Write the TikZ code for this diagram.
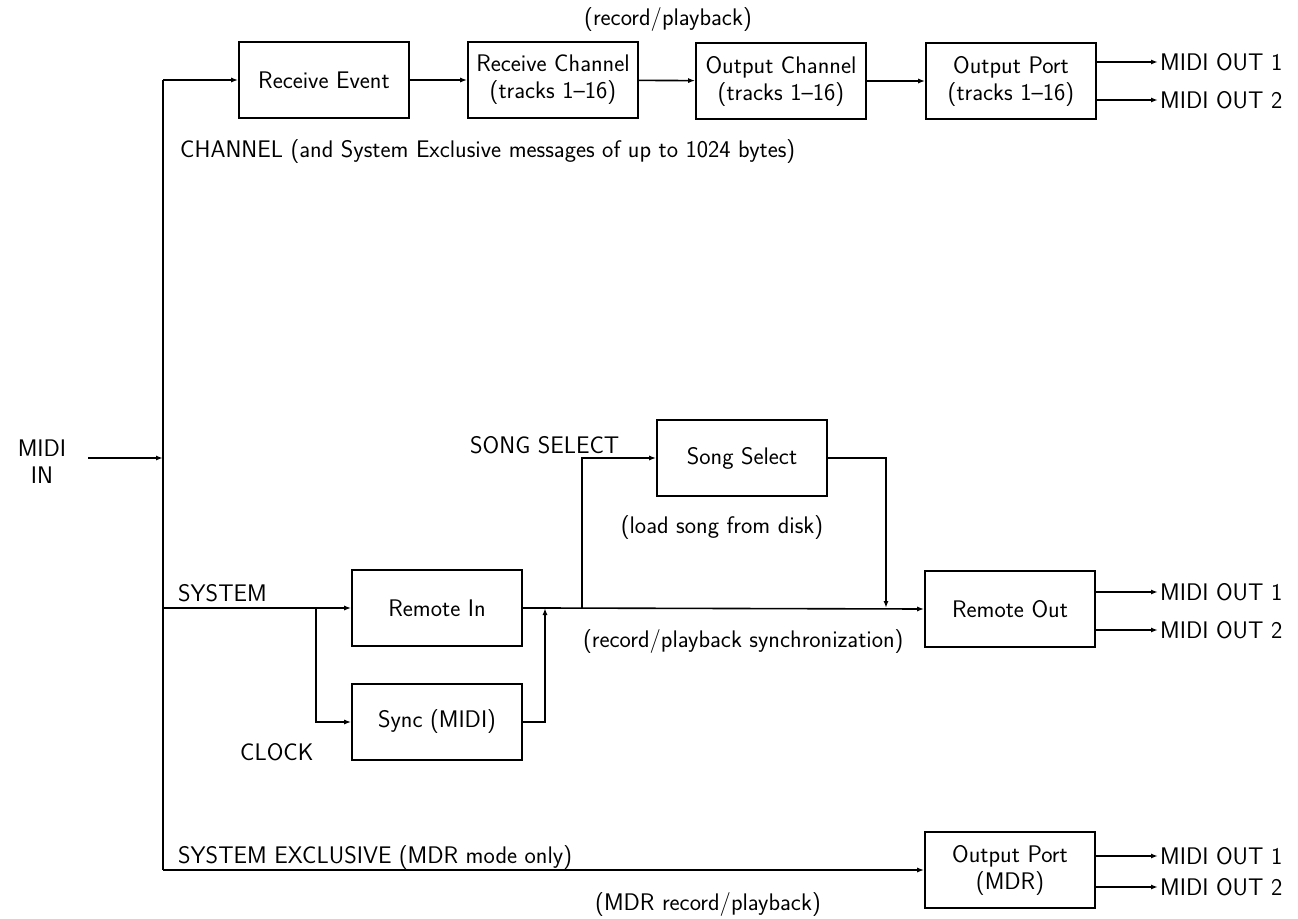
\documentclass[tikz,border=0pt]{standalone}
\usetikzlibrary{arrows.meta}
\begin{document}
\begin{tikzpicture}[x=1pt,y=-1pt,
  font=\sffamily\fontsize{24}{27}\selectfont,
  box/.style={draw, line width=1.6pt, minimum width=170pt, minimum height=76pt, align=center, inner sep=0pt},
  lbl/.style={inner sep=0pt},
  outl/.style={inner sep=2pt, anchor=west},
  ln/.style={line width=1.6pt},
  conn/.style={line width=1.6pt, -{Latex[length=7pt,width=5pt]}}]
\useasboundingbox (0,0) rectangle (1298,918);

% boxes
\node[box] (re) at (324,80) {Receive Event};
\node[box] (rc) at (553,80) {Receive Channel\\(tracks 1--16)};
\node[box] (oc) at (781,81) {Output Channel\\(tracks 1--16)};
\node[box] (op) at (1011,81) {Output Port\\(tracks 1--16)};
\node[box] (ss) at (742,458) {Song Select};
\node[box] (ri) at (437,608) {Remote In};
\node[box] (sy) at (437,722) {Sync (MIDI)};
\node[box] (ro) at (1010,609) {Remote Out};
\node[box] (mdr) at (1010,870) {Output Port\\(MDR)};

% outputs
\node[outl] (op1) at (1158,62) {MIDI OUT 1};
\node[outl] (op2) at (1158,100) {MIDI OUT 2};
\node[outl] (ro1) at (1158,592) {MIDI OUT 1};
\node[outl] (ro2) at (1158,630) {MIDI OUT 2};
\node[outl] (md1) at (1158,856) {MIDI OUT 1};
\node[outl] (md2) at (1158,887) {MIDI OUT 2};
\draw[conn] (op.east |- op1) -- (op1.west);
\draw[conn] (op.east |- op2) -- (op2.west);
\draw[conn] (ro.east |- ro1) -- (ro1.west);
\draw[conn] (ro.east |- ro2) -- (ro2.west);
\draw[conn] (mdr.east |- md1) -- (md1.west);
\draw[conn] (mdr.east |- md2) -- (md2.west);

% labels
\node[lbl, align=center] (mi) at (42,462) {MIDI\\IN};
\node[lbl] (lrp) at (668,20) {(record/playback)};
\node[lbl, anchor=west] (lch) at (180,152) {CHANNEL (and System Exclusive messages of up to 1024 bytes)};
\node[lbl, anchor=west] (lss) at (470,445) {SONG SELECT};
\node[lbl] (lld) at (722,528) {(load song from disk)};
\node[lbl, anchor=west] (lsys) at (178,593) {SYSTEM};
\node[lbl, anchor=west] (lclk) at (240,752) {CLOCK};
\node[lbl, anchor=west] (lrps) at (583,642) {(record/playback synchronization)};
\node[lbl, anchor=west] (lsx) at (178,858) {SYSTEM EXCLUSIVE (MDR mode only)};
\node[lbl] (lmdr) at (708,905) {(MDR record/playback)};

% trunk
\coordinate (ttop) at (163,80);
\coordinate (tin) at (163,458);
\coordinate (tsys) at (163,608);
\coordinate (tbot) at (163,870);
\coordinate (mis) at (88,458);
\draw[ln] (ttop) -- (tbot);
\draw[conn] (mis) -- (tin);

% top row
\draw[conn] (ttop) -- (re.west);
\draw[conn] (re) -- (rc);
\draw[conn] (rc) -- (oc);
\draw[conn] (oc) -- (op);

% system
\coordinate (br) at (316,608);
\coordinate (j1) at (545,608);
\coordinate (j2) at (582,608);
\coordinate (j3) at (886,608);
\draw[conn] (tsys) -- (ri.west);
\draw[conn] (br) |- (sy.west);
\draw[ln] (ri.east) -- (j1);
\draw[conn] (sy.east) -| (j1);
\draw[conn] (j1) -- (ro.west);
\draw[conn] (j2) |- (ss.west);
\draw[conn] (ss.east) -| (j3);

% sysex
\draw[conn] (tbot) -- (mdr.west);
\end{tikzpicture}
\end{document}
